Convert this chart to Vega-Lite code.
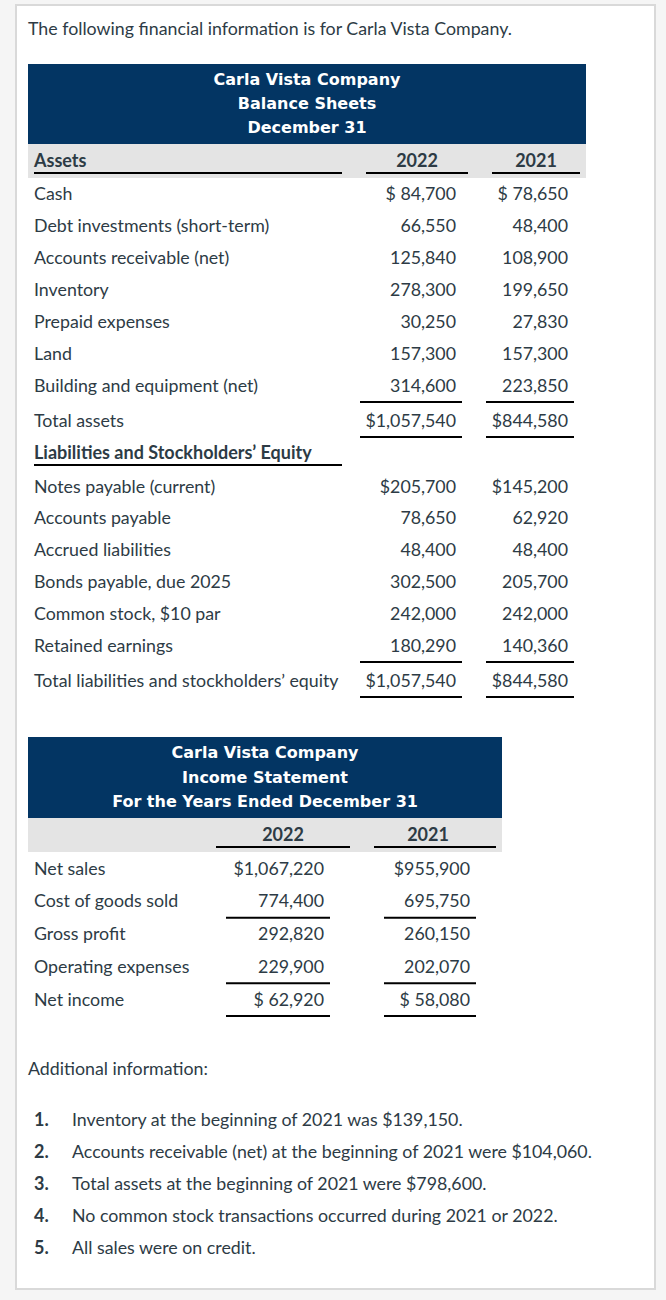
{
  "$schema": "https://vega.github.io/schema/vega-lite/v6.json",
  "width": 639,
  "height": 1284,
  "autosize": {"type": "none"},
  "padding": {"left": 16, "top": 5, "right": 11, "bottom": 11},
  "background": "#f5f5f5",
  "config": {"view": {"fill": "white", "stroke": "#d9d9d9", "strokeWidth": 2}},
  "datasets": {
    "cells": [
      {"line": 0, "col": 0, "text": "The following financial information is for Carla Vista Company.", "role": "text"},
      {"line": 1, "col": 7, "text": "Carla Vista Company", "role": "title"},
      {"line": 2, "col": 7, "text": "Balance Sheets", "role": "title"},
      {"line": 3, "col": 7, "text": "December 31", "role": "title"},
      {"line": 4, "col": 1, "text": "Assets", "role": "bold"},
      {"line": 4, "col": 15, "text": "2022", "role": "head"},
      {"line": 4, "col": 24, "text": "2021", "role": "head"},
      {"line": 5, "col": 1, "text": "Cash", "role": "text"},
      {"line": 5, "col": 17, "text": "$ 84,700", "role": "amount"},
      {"line": 5, "col": 25, "text": "$ 78,650", "role": "amount"},
      {"line": 6, "col": 1, "text": "Debt investments (short-term)", "role": "text"},
      {"line": 6, "col": 17, "text": "66,550", "role": "amount"},
      {"line": 6, "col": 25, "text": "48,400", "role": "amount"},
      {"line": 7, "col": 1, "text": "Accounts receivable (net)", "role": "text"},
      {"line": 7, "col": 17, "text": "125,840", "role": "amount"},
      {"line": 7, "col": 25, "text": "108,900", "role": "amount"},
      {"line": 8, "col": 1, "text": "Inventory", "role": "text"},
      {"line": 8, "col": 17, "text": "278,300", "role": "amount"},
      {"line": 8, "col": 25, "text": "199,650", "role": "amount"},
      {"line": 9, "col": 1, "text": "Prepaid expenses", "role": "text"},
      {"line": 9, "col": 17, "text": "30,250", "role": "amount"},
      {"line": 9, "col": 25, "text": "27,830", "role": "amount"},
      {"line": 10, "col": 1, "text": "Land", "role": "text"},
      {"line": 10, "col": 17, "text": "157,300", "role": "amount"},
      {"line": 10, "col": 25, "text": "157,300", "role": "amount"},
      {"line": 11, "col": 1, "text": "Building and equipment (net)", "role": "text"},
      {"line": 11, "col": 17, "text": "314,600", "role": "amount"},
      {"line": 11, "col": 25, "text": "223,850", "role": "amount"},
      {"line": 12, "col": 1, "text": "Total assets", "role": "text"},
      {"line": 12, "col": 17, "text": "$1,057,540", "role": "amount"},
      {"line": 12, "col": 25, "text": "$844,580", "role": "amount"},
      {"line": 13, "col": 1, "text": "Liabilities and Stockholders’ Equity", "role": "bold"},
      {"line": 14, "col": 1, "text": "Notes payable (current)", "role": "text"},
      {"line": 14, "col": 17, "text": "$205,700", "role": "amount"},
      {"line": 14, "col": 25, "text": "$145,200", "role": "amount"},
      {"line": 15, "col": 1, "text": "Accounts payable", "role": "text"},
      {"line": 15, "col": 17, "text": "78,650", "role": "amount"},
      {"line": 15, "col": 25, "text": "62,920", "role": "amount"},
      {"line": 16, "col": 1, "text": "Accrued liabilities", "role": "text"},
      {"line": 16, "col": 17, "text": "48,400", "role": "amount"},
      {"line": 16, "col": 25, "text": "48,400", "role": "amount"},
      {"line": 17, "col": 1, "text": "Bonds payable, due 2025", "role": "text"},
      {"line": 17, "col": 17, "text": "302,500", "role": "amount"},
      {"line": 17, "col": 25, "text": "205,700", "role": "amount"},
      {"line": 18, "col": 1, "text": "Common stock, $10 par", "role": "text"},
      {"line": 18, "col": 17, "text": "242,000", "role": "amount"},
      {"line": 18, "col": 25, "text": "242,000", "role": "amount"},
      {"line": 19, "col": 1, "text": "Retained earnings", "role": "text"},
      {"line": 19, "col": 17, "text": "180,290", "role": "amount"},
      {"line": 19, "col": 25, "text": "140,360", "role": "amount"},
      {"line": 20, "col": 1, "text": "Total liabilities and stockholders’ equity", "role": "text"},
      {"line": 20, "col": 17, "text": "$1,057,540", "role": "amount"},
      {"line": 20, "col": 25, "text": "$844,580", "role": "amount"},
      {"line": 21, "col": 5, "text": "Carla Vista Company", "role": "title"},
      {"line": 22, "col": 5, "text": "Income Statement", "role": "title"},
      {"line": 23, "col": 5, "text": "For the Years Ended December 31", "role": "title"},
      {"line": 24, "col": 6, "text": "2022", "role": "head"},
      {"line": 24, "col": 16, "text": "2021", "role": "head"},
      {"line": 25, "col": 1, "text": "Net sales", "role": "text"},
      {"line": 25, "col": 8, "text": "$1,067,220", "role": "amount"},
      {"line": 25, "col": 19, "text": "$955,900", "role": "amount"},
      {"line": 26, "col": 1, "text": "Cost of goods sold", "role": "text"},
      {"line": 26, "col": 8, "text": "774,400", "role": "amount"},
      {"line": 26, "col": 19, "text": "695,750", "role": "amount"},
      {"line": 27, "col": 1, "text": "Gross profit", "role": "text"},
      {"line": 27, "col": 8, "text": "292,820", "role": "amount"},
      {"line": 27, "col": 19, "text": "260,150", "role": "amount"},
      {"line": 28, "col": 1, "text": "Operating expenses", "role": "text"},
      {"line": 28, "col": 8, "text": "229,900", "role": "amount"},
      {"line": 28, "col": 19, "text": "202,070", "role": "amount"},
      {"line": 29, "col": 1, "text": "Net income", "role": "text"},
      {"line": 29, "col": 8, "text": "$ 62,920", "role": "amount"},
      {"line": 29, "col": 19, "text": "$ 58,080", "role": "amount"},
      {"line": 30, "col": 0, "text": "Additional information:", "role": "text"},
      {"line": 31, "col": 1, "text": "1.", "role": "bold"},
      {"line": 31, "col": 2, "text": "Inventory at the beginning of 2021 was $139,150.", "role": "text"},
      {"line": 32, "col": 1, "text": "2.", "role": "bold"},
      {"line": 32, "col": 2, "text": "Accounts receivable (net) at the beginning of 2021 were $104,060.", "role": "text"},
      {"line": 33, "col": 1, "text": "3.", "role": "bold"},
      {"line": 33, "col": 2, "text": "Total assets at the beginning of 2021 were $798,600.", "role": "text"},
      {"line": 34, "col": 1, "text": "4.", "role": "bold"},
      {"line": 34, "col": 2, "text": "No common stock transactions occurred during 2021 or 2022.", "role": "text"},
      {"line": 35, "col": 1, "text": "5.", "role": "bold"},
      {"line": 35, "col": 2, "text": "All sales were on credit.", "role": "text"}
    ],
    "rules": [
      {"kind": "head", "line": 4, "col": 1, "col2": 9},
      {"kind": "head", "line": 4, "col": 12, "col2": 18},
      {"kind": "head", "line": 4, "col": 21, "col2": 26},
      {"kind": "head", "line": 13, "col": 1, "col2": 9},
      {"kind": "head", "line": 24, "col": 3, "col2": 10},
      {"kind": "head", "line": 24, "col": 13, "col2": 22},
      {"kind": "sum", "line": 11, "col": 11, "col2": 17},
      {"kind": "sum", "line": 11, "col": 20, "col2": 25},
      {"kind": "sum", "line": 12, "col": 11, "col2": 17},
      {"kind": "sum", "line": 12, "col": 20, "col2": 25},
      {"kind": "sum", "line": 19, "col": 11, "col2": 17},
      {"kind": "sum", "line": 19, "col": 20, "col2": 25},
      {"kind": "sum", "line": 20, "col": 11, "col2": 17},
      {"kind": "sum", "line": 20, "col": 20, "col2": 25},
      {"kind": "sum", "line": 26, "col": 4, "col2": 8},
      {"kind": "sum", "line": 26, "col": 14, "col2": 19},
      {"kind": "sum", "line": 28, "col": 4, "col2": 8},
      {"kind": "sum", "line": 28, "col": 14, "col2": 19},
      {"kind": "sum", "line": 29, "col": 4, "col2": 8},
      {"kind": "sum", "line": 29, "col": 14, "col2": 19}
    ],
    "boxes": [
      {"kind": "title", "line": 1, "line2": 3, "col": 0, "col2": 27},
      {"kind": "band", "line": 4, "line2": 4, "col": 0, "col2": 27},
      {"kind": "title", "line": 21, "line2": 23, "col": 0, "col2": 23},
      {"kind": "band", "line": 24, "line2": 24, "col": 0, "col2": 23}
    ]
  },
  "encoding": {
    "x": {
      "field": "col", "type": "quantitative", "axis": null,
      "scale": {
        "domain": [0,1,2,3,4,5,6,7,8,9,10,11,12,13,14,15,16,17,18,19,20,21,22,23,24,25,26,27],
        "range": [12,18,56,200,210,249,267,291,314,326,334,344,350,358,368,401,412,446,452,460,470,476,480,486,520,558,564,570],
        "nice": false, "zero": false
      }
    },
    "y": {
      "field": "line", "type": "quantitative", "axis": null,
      "scale": {
        "domain": [0,1,3,4,5,11,12,13,14,19,20,21,23,24,25,29,30,31,35],
        "range": [23,75,123,155,188,380,415,447,481,640,675,748,797,829,863,994,1063,1114,1242],
        "nice": false, "zero": false
      }
    }
  },
  "layer": [
    {
      "data": {"name": "boxes"},
      "transform": [{"filter": "datum.kind === 'title'"}],
      "mark": {"type": "rect", "color": "#033563", "yOffset": -16, "y2Offset": 16},
      "encoding": {"x2": {"field": "col2"}, "y2": {"field": "line2"}}
    },
    {
      "data": {"name": "boxes"},
      "transform": [{"filter": "datum.kind === 'band'"}],
      "mark": {"type": "rect", "color": "#e4e4e4", "yOffset": -16, "y2Offset": 18},
      "encoding": {"x2": {"field": "col2"}, "y2": {"field": "line2"}}
    },
    {
      "data": {"name": "rules"},
      "transform": [{"filter": "datum.kind === 'head'"}],
      "mark": {"type": "rule", "color": "#000000", "strokeWidth": 2, "yOffset": 13},
      "encoding": {"x2": {"field": "col2"}}
    },
    {
      "data": {"name": "rules"},
      "transform": [{"filter": "datum.kind === 'sum'"}],
      "mark": {"type": "rule", "color": "#000000", "strokeWidth": 2, "yOffset": 17},
      "encoding": {"x2": {"field": "col2"}}
    },
    {
      "data": {"name": "cells"},
      "transform": [{"filter": "datum.role === 'text'"}],
      "mark": {"type": "text", "align": "left", "baseline": "middle", "dy": 1.5, "font": "Lato", "fontSize": 17.8, "color": "#2d3b45"},
      "encoding": {"text": {"field": "text"}}
    },
    {
      "data": {"name": "cells"},
      "transform": [{"filter": "datum.role === 'bold'"}],
      "mark": {"type": "text", "align": "left", "baseline": "middle", "dy": 1.5, "font": "Lato", "fontWeight": "bold", "fontSize": 18, "color": "#2d3b45"},
      "encoding": {"text": {"field": "text"}}
    },
    {
      "data": {"name": "cells"},
      "transform": [{"filter": "datum.role === 'amount'"}],
      "mark": {"type": "text", "align": "right", "dx": -6, "dy": 1.5, "baseline": "middle", "font": "Lato", "fontSize": 17.8, "color": "#2d3b45"},
      "encoding": {"text": {"field": "text"}}
    },
    {
      "data": {"name": "cells"},
      "transform": [{"filter": "datum.role === 'head'"}],
      "mark": {"type": "text", "align": "center", "baseline": "middle", "dy": 1.5, "font": "Lato", "fontWeight": "bold", "fontSize": 18, "color": "#2d3b45"},
      "encoding": {"text": {"field": "text"}}
    },
    {
      "data": {"name": "cells"},
      "transform": [{"filter": "datum.role === 'title'"}],
      "mark": {"type": "text", "align": "center", "baseline": "middle", "font": "DejaVu Sans", "fontWeight": "bold", "fontSize": 16, "color": "#ffffff"},
      "encoding": {"text": {"field": "text"}}
    }
  ]
}
